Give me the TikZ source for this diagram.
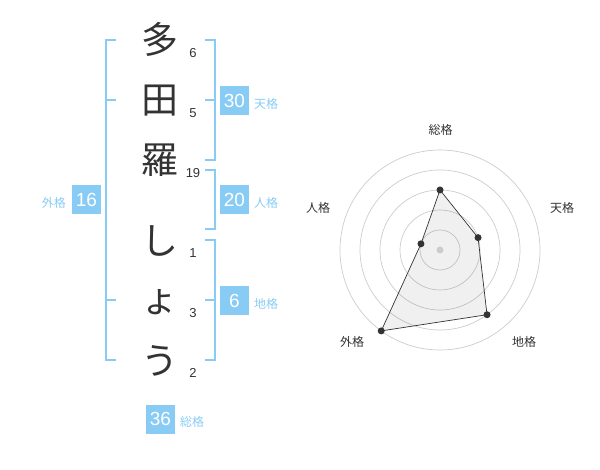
\documentclass[tikz,border=0pt]{standalone}
\usepackage{fontspec}
\setmainfont{Liberation Sans}
\newfontfamily\jp{Noto Sans CJK JP}
\definecolor{kblue}{HTML}{88CCF6}
\definecolor{ktext}{HTML}{333333}
\definecolor{kgrid}{HTML}{CCCCCC}
\begin{document}
\begin{tikzpicture}[x=1pt,y=-1pt,
  kanji/.style={font=\jp\fontsize{37}{37}\selectfont,text=ktext,inner sep=0pt,anchor=center},
  strokes/.style={font=\fontsize{13}{13}\selectfont,text=ktext,inner sep=0pt},
  kbox/.style={fill=kblue,text=white,font=\fontsize{19}{19}\selectfont,minimum width=29pt,minimum height=29pt,inner sep=0pt},
  klabel/.style={font=\jp\fontsize{12}{12}\selectfont,text=kblue,inner sep=0pt},
  brk/.style={draw=kblue,line width=2pt},
  rlabel/.style={font=\jp\fontsize{12}{12}\selectfont,text=ktext,inner sep=0pt},
  ring/.style={draw=kgrid,line width=0.7pt},
  dot/.style={circle,fill=ktext,inner sep=0pt,minimum size=7pt}]
\useasboundingbox (0,0) rectangle (600,470);
% characters
\node[kanji] (c1) at (160,39) {多};
\node[kanji] (c2) at (160,101) {田};
\node[kanji] (c3) at (160,160) {羅};
\node[kanji] (c4) at (160,241) {し};
\node[kanji] (c5) at (160,302) {ょ};
\node[kanji] (c6) at (160,361) {う};
% stroke counts
\node[strokes] (s1) at (193,53) {6};
\node[strokes] (s2) at (193,113) {5};
\node[strokes] (s3) at (193,173) {19};
\node[strokes] (s4) at (193,253) {1};
\node[strokes] (s5) at (193,313) {3};
\node[strokes] (s6) at (193,373) {2};
% brackets
\draw[brk] (116,40) -- (105.5,40) -- (105.5,360) -- (116,360);
\draw[brk] (105.5,100) -- (116,100);
\draw[brk] (105.5,300) -- (116,300);
\draw[brk] (205,40) -- (214.5,40) -- (214.5,160) -- (205,160);
\draw[brk] (205,100) -- (214.5,100);
\draw[brk] (205,170) -- (214.5,170) -- (214.5,229.5) -- (205,229.5);
\draw[brk] (205,240) -- (214.5,240) -- (214.5,360) -- (205,360);
\draw[brk] (205,300) -- (214.5,300);
% boxes
\node[kbox] (ten) at (234.5,100.5) {30};
\node[klabel,anchor=west] (tenl) at (254,104) {天格};
\node[kbox] (jin) at (234.5,200) {20};
\node[klabel,anchor=west] (jinl) at (254,203) {人格};
\node[kbox] (chi) at (234.5,300.5) {6};
\node[klabel,anchor=west] (chil) at (254,304) {地格};
\node[kbox] (gai) at (86.5,200) {16};
\node[klabel,anchor=east] (gail) at (66,203) {外格};
\node[kbox] (sou) at (160.5,419) {36};
\node[klabel,anchor=west] (soul) at (180,422) {総格};
% radar
\coordinate (O) at (440,250);
\foreach \r in {20,40,60,80,100} \draw[ring] (O) circle[radius=\r];
\path (440,250) ++(0,-60) coordinate (p1);
\path (440,250) ++({40*cos(18)},{-40*sin(18)}) coordinate (p2);
\path (440,250) ++({80*cos(54)},{80*sin(54)}) coordinate (p3);
\path (440,250) ++({-100*cos(54)},{100*sin(54)}) coordinate (p4);
\path (440,250) ++({-20*cos(18)},{-20*sin(18)}) coordinate (p5);
\fill[black,fill opacity=0.06] (p1) -- (p2) -- (p3) -- (p4) -- (p5) -- cycle;
\draw[ktext,line width=0.7pt] (p1) -- (p2) -- (p3) -- (p4) -- (p5) -- cycle;
\fill[kgrid] (O) circle[radius=3.5];
\node[dot] (d1) at (p1) {};
\node[dot] (d2) at (p2) {};
\node[dot] (d3) at (p3) {};
\node[dot] (d4) at (p4) {};
\node[dot] (d5) at (p5) {};
\node[rlabel] (r1) at (440.5,130) {総格};
\node[rlabel] (r2) at (562,208) {天格};
\node[rlabel] (r3) at (524,342) {地格};
\node[rlabel] (r4) at (352,342) {外格};
\node[rlabel] (r5) at (318,208) {人格};
\end{tikzpicture}
\end{document}
